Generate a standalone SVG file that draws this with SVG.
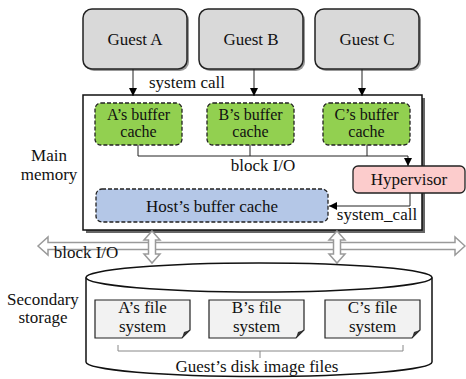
<svg xmlns="http://www.w3.org/2000/svg" width="466" height="379" viewBox="0 0 466 379" font-family="'Liberation Serif', 'Times New Roman', Tinos, 'DejaVu Serif', serif">
<defs>
<style>
text{font-family:'Liberation Serif','Times New Roman',Tinos,'DejaVu Serif',serif;font-size:17px;fill:#111;text-anchor:middle}
.sm{font-size:16px}
.guest{fill:#d9d9d9;stroke:#222;stroke-width:1.5}
.shadow{fill:#555;opacity:0.6}
.gcache{fill:#92d050;stroke:#222;stroke-width:1.3;stroke-dasharray:4 2}
.hcache{fill:#b4c7e7;stroke:#222;stroke-width:1.3;stroke-dasharray:4 2}
.hyp{fill:#fccccc;stroke:#222;stroke-width:1.3}
.doc{fill:#f2f2f2;stroke:#222;stroke-width:1.2}
.fold{fill:#333}
.conn{fill:none;stroke:#222;stroke-width:1}
.bus{fill:#fff;stroke:#9a9a9a;stroke-width:1.5}
</style>
<marker id="arr" viewBox="0 0 10 10" refX="10" refY="5" markerWidth="8" markerHeight="8" markerUnits="userSpaceOnUse" orient="auto">
<path d="M0,0 L10,5 L0,10 Z" fill="#000"/>
</marker>
</defs>

<g id="guestA">
<rect class="shadow" x="85" y="11" width="104" height="60" rx="9"/>
<rect class="guest" x="83" y="9" width="104" height="60" rx="9"/>
<text x="135" y="45">Guest A</text>
</g>
<g id="guestB">
<rect class="shadow" x="201" y="11" width="104" height="60" rx="9"/>
<rect class="guest" x="199" y="9" width="104" height="60" rx="9"/>
<text x="251" y="45">Guest B</text>
</g>
<g id="guestC">
<rect class="shadow" x="317" y="11" width="104" height="60" rx="9"/>
<rect class="guest" x="315" y="9" width="104" height="60" rx="9"/>
<text x="367" y="45">Guest C</text>
</g>

<g id="mainMemory">
<rect x="86" y="98" width="339" height="135" fill="#666"/>
<rect x="83" y="95" width="339" height="135" fill="#fff" stroke="#111" stroke-width="1.5"/>
</g>
<text x="49" y="161">Main</text>
<text x="49" y="180">memory</text>

<g id="cacheA">
<rect class="gcache" x="95" y="103" width="87" height="42" rx="6"/>
<text class="sm" x="138.5" y="120">A’s buffer</text>
<text class="sm" x="138.5" y="137">cache</text>
</g>
<g id="cacheB">
<rect class="gcache" x="207" y="103" width="87" height="42" rx="6"/>
<text class="sm" x="250.5" y="120">B’s buffer</text>
<text class="sm" x="250.5" y="137">cache</text>
</g>
<g id="cacheC">
<rect class="gcache" x="323" y="103" width="87" height="42" rx="6"/>
<text class="sm" x="366.5" y="120">C’s buffer</text>
<text class="sm" x="366.5" y="137">cache</text>
</g>

<g id="hostCache">
<rect class="hcache" x="96" y="189" width="232" height="33" rx="6"/>
<text x="212" y="212">Host’s buffer cache</text>
</g>

<g id="hypervisor">
<rect class="hyp" x="353" y="166" width="112" height="27" rx="5"/>
<text x="409" y="185">Hypervisor</text>
</g>

<g id="connectors">
<line class="conn" x1="133" y1="69" x2="133" y2="96" marker-end="url(#arr)"/>
<line class="conn" x1="254" y1="69" x2="254" y2="96" marker-end="url(#arr)"/>
<line class="conn" x1="362" y1="69" x2="362" y2="96" marker-end="url(#arr)"/>
<path class="conn" d="M138,145 V156 H408 V166" marker-end="url(#arr)"/>
<line class="conn" x1="250" y1="145" x2="250" y2="156"/>
<line class="conn" x1="367" y1="145" x2="367" y2="156"/>
<path class="conn" d="M410,193 V206 H329" marker-end="url(#arr)"/>
<path class="bus" d="M38,246 L48,237 V242.5 H455 V237 L465,246 L455,255 V249.5 H48 V255 Z"/>
<path class="bus" d="M152,231 L160,240 H155.5 V254 H160 L152,263 L144,254 H148.5 V240 H144 Z"/>
<path class="bus" d="M337,231 L345,240 H340.5 V254 H345 L337,263 L329,254 H333.5 V240 H329 Z"/>
</g>
<text x="187" y="88">system call</text>
<text x="263" y="171">block I/O</text>
<text x="377" y="220">system_call</text>
<text x="86" y="258">block I/O</text>

<g id="secondaryStorage">
<path d="M86,277.5 V362 A173,14.5 0 0 0 432,362 V277.5" fill="#fff" stroke="#111" stroke-width="1.5"/>
<ellipse cx="259" cy="277.5" rx="173" ry="14.5" fill="#fff" stroke="#111" stroke-width="1.5"/>
</g>
<text x="43" y="305">Secondary</text>
<text x="43" y="323">storage</text>

<g id="fsA">
<path class="doc" d="M95,300 H190 V330 L182,338 H95 Z"/>
<path class="fold" d="M190,330 L182,338 L184,332 Z"/>
<text x="142.5" y="313">A’s file</text>
<text x="142.5" y="332">system</text>
</g>
<g id="fsB">
<path class="doc" d="M209,300 H304 V330 L296,338 H209 Z"/>
<path class="fold" d="M304,330 L296,338 L298,332 Z"/>
<text x="256.5" y="313">B’s file</text>
<text x="256.5" y="332">system</text>
</g>
<g id="fsC">
<path class="doc" d="M325,300 H420 V330 L412,338 H325 Z"/>
<path class="fold" d="M420,330 L412,338 L414,332 Z"/>
<text x="372.5" y="313">C’s file</text>
<text x="372.5" y="332">system</text>
</g>

<path d="M118,345 V351 H403 V345 M260,351 V358" fill="none" stroke="#888" stroke-width="1"/>
<text x="257" y="372">Guest’s disk image files</text>
</svg>
